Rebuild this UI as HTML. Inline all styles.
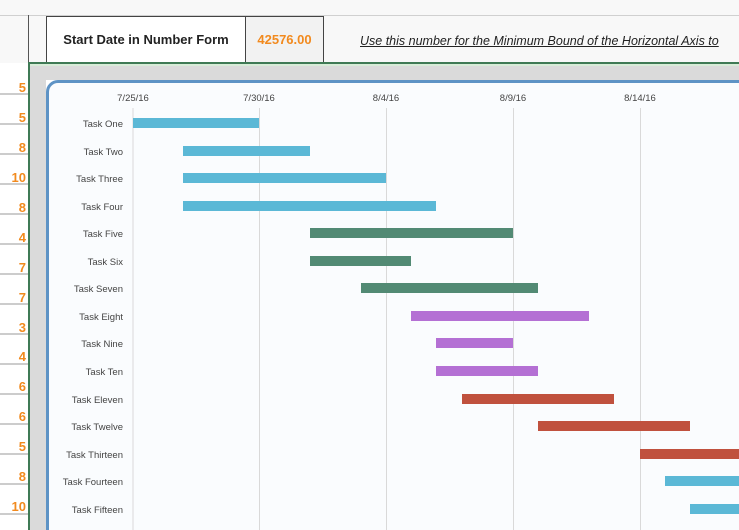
<!DOCTYPE html>
<html><head><style>
html,body{margin:0;padding:0;width:739px;height:530px;overflow:hidden;background:#fff}
#w{position:relative;width:739px;height:530px;overflow:hidden;font-family:"Liberation Sans",sans-serif}
.a{position:absolute}
</style></head><body><div id="w">
<div class="a" style="left:0;top:0;width:739px;height:63px;background:#f8f8f8"></div>
<div class="a" style="left:0;top:15px;width:739px;height:1px;background:#d0d0d0"></div>
<div class="a" style="left:28px;top:15px;width:1px;height:48px;background:#555"></div>
<div class="a" style="left:46px;top:16px;width:200px;height:47px;border-left:1px solid #444;border-right:1px solid #444;border-top:1px solid #444;box-sizing:border-box;background:#fff;font:bold 13px 'Liberation Sans',sans-serif;color:#222;line-height:46px;text-align:center">Start Date in Number Form</div>
<div class="a" style="left:246px;top:16px;width:78px;height:47px;border-right:1px solid #444;border-top:1px solid #444;box-sizing:border-box;background:#f2f2f2;font:bold 13px 'Liberation Sans',sans-serif;color:#f28a1e;line-height:46px;text-align:center">42576.00</div>
<div class="a" style="left:360px;top:34px;white-space:nowrap;font:italic 12.5px 'Liberation Sans',sans-serif;color:#222;text-decoration:underline">Use this number for the Minimum Bound of the Horizontal Axis to</div>
<div class="a" style="left:28px;top:62px;width:711px;height:2px;background:#3f7a55"></div>
<div class="a" style="left:28px;top:62px;width:2px;height:468px;background:#3f7a55"></div>
<div class="a" style="left:30px;top:64px;width:709px;height:2px;background:#d8ecd8"></div>
<div class="a" style="left:30px;top:66px;width:709px;height:14px;background:#dadada"></div>
<div class="a" style="left:30px;top:66px;width:16px;height:464px;background:#dadada"></div>
<div class="a" style="left:46px;top:80px;width:720px;height:470px;box-sizing:border-box;border:3px solid #5e93c5;border-radius:12px;background:#fafcfe"></div>
<svg class="a" style="left:0;top:0" width="739" height="530">
<g fill="#f28a1e" font-weight="bold" font-size="13" text-anchor="end" font-family="Liberation Sans,sans-serif">
<text x="26" y="92">5</text><text x="26" y="122">5</text><text x="26" y="152">8</text><text x="26" y="182">10</text><text x="26" y="212">8</text><text x="26" y="242">4</text><text x="26" y="272">7</text><text x="26" y="302">7</text><text x="26" y="332">3</text><text x="26" y="361">4</text><text x="26" y="391">6</text><text x="26" y="421">6</text><text x="26" y="451">5</text><text x="26" y="481">8</text><text x="26" y="511">10</text>
</g>
<g stroke="#999" stroke-width="1">
<line x1="0" y1="94" x2="28" y2="94"/><line x1="0" y1="124" x2="28" y2="124"/><line x1="0" y1="154" x2="28" y2="154"/><line x1="0" y1="184" x2="28" y2="184"/><line x1="0" y1="214" x2="28" y2="214"/><line x1="0" y1="244" x2="28" y2="244"/><line x1="0" y1="274" x2="28" y2="274"/><line x1="0" y1="304" x2="28" y2="304"/><line x1="0" y1="334" x2="28" y2="334"/><line x1="0" y1="364" x2="28" y2="364"/><line x1="0" y1="394" x2="28" y2="394"/><line x1="0" y1="424" x2="28" y2="424"/><line x1="0" y1="454" x2="28" y2="454"/><line x1="0" y1="484" x2="28" y2="484"/><line x1="0" y1="514" x2="28" y2="514"/>
</g>
<g stroke="#d9d9d9" stroke-width="1">
<line x1="133" y1="108" x2="133" y2="530"/><line x1="259.5" y1="108" x2="259.5" y2="530"/><line x1="386.5" y1="108" x2="386.5" y2="530"/><line x1="513.5" y1="108" x2="513.5" y2="530"/><line x1="640.5" y1="108" x2="640.5" y2="530"/>
</g>
<g fill="#444" font-size="9.5" text-anchor="middle" font-family="Liberation Sans,sans-serif">
<text x="133" y="101">7/25/16</text><text x="259" y="101">7/30/16</text><text x="386" y="101">8/4/16</text><text x="513" y="101">8/9/16</text><text x="640" y="101">8/14/16</text>
</g>
<g fill="#444" font-size="9.5" text-anchor="end" font-family="Liberation Sans,sans-serif">
<text x="123" y="127">Task One</text><text x="123" y="155">Task Two</text><text x="123" y="182">Task Three</text><text x="123" y="210">Task Four</text><text x="123" y="237">Task Five</text><text x="123" y="265">Task Six</text><text x="123" y="292">Task Seven</text><text x="123" y="320">Task Eight</text><text x="123" y="347">Task Nine</text><text x="123" y="375">Task Ten</text><text x="123" y="403">Task Eleven</text><text x="123" y="430">Task Twelve</text><text x="123" y="458">Task Thirteen</text><text x="123" y="485">Task Fourteen</text><text x="123" y="513">Task Fifteen</text>
</g>
<g>
<rect x="133" y="118" width="126" height="10" fill="#5bb8d6"/>
<rect x="183" y="146" width="127" height="10" fill="#5bb8d6"/>
<rect x="183" y="173" width="203" height="10" fill="#5bb8d6"/>
<rect x="183" y="201" width="253" height="10" fill="#5bb8d6"/>
<rect x="310" y="228" width="203" height="10" fill="#528a74"/>
<rect x="310" y="256" width="101" height="10" fill="#528a74"/>
<rect x="361" y="283" width="177" height="10" fill="#528a74"/>
<rect x="411" y="311" width="178" height="10" fill="#b470d4"/>
<rect x="436" y="338" width="77" height="10" fill="#b470d4"/>
<rect x="436" y="366" width="102" height="10" fill="#b470d4"/>
<rect x="462" y="394" width="152" height="10" fill="#c0513e"/>
<rect x="538" y="421" width="152" height="10" fill="#c0513e"/>
<rect x="640" y="449" width="99" height="10" fill="#c0513e"/>
<rect x="665" y="476" width="74" height="10" fill="#5bb8d6"/>
<rect x="690" y="504" width="49" height="10" fill="#5bb8d6"/>
</g>
</svg>
</div></body></html>
